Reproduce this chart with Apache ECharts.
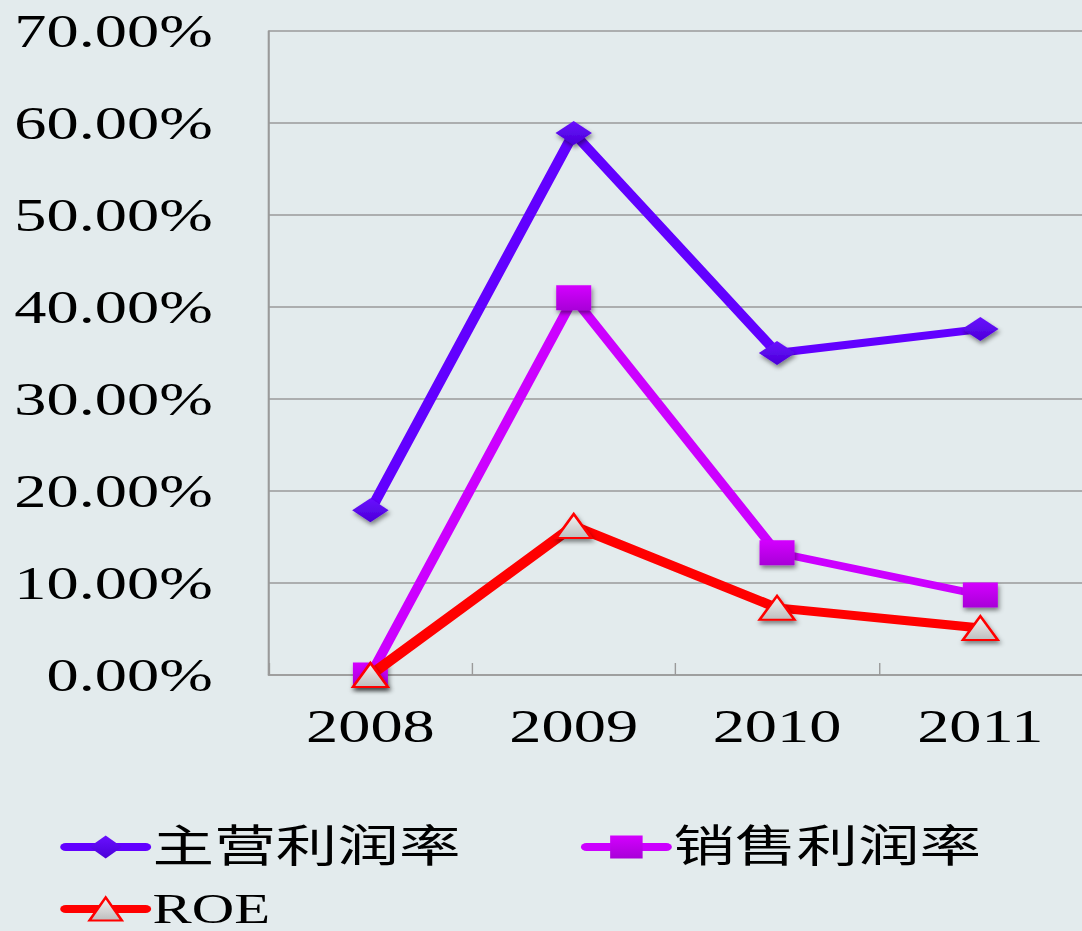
<!DOCTYPE html>
<html>
<head>
<meta charset="utf-8">
<script src="https://cdn.jsdelivr.net/npm/echarts@6/dist/echarts.min.js"></script>
<style>
html, body { margin: 0; padding: 0; background: #e3ebed; overflow: hidden; }
#chart { width: 773px; height: 931px; transform: scaleX(1.39974); transform-origin: 0 0; }
</style>
</head>
<body>
<div id="chart"></div>
<script>
const categories = ['2008', '2009', '2010', '2011'];
const seriesNames = ['主营利润率', '销售利润率', 'ROE'];
const mainProfit = [17.9, 58.9, 35.0, 37.6];
const salesProfit = [0.0, 41.0, 13.3, 8.7];
const roe = [0.0, 16.2, 7.3, 5.1];
const yTicks = { min: 0, max: 70, interval: 10 };

const serif = "'Liberation Serif', 'Times New Roman', 'Noto Sans CJK SC', serif";
const shadow = { shadowBlur: 4, shadowColor: 'rgba(0,0,0,0.45)', shadowOffsetY: 3, shadowOffsetX: 1 };
const legendCommon = {
  padding: 0, itemWidth: 57, itemHeight: 29, itemGap: 86,
  lineStyle: { width: 8, cap: 'round' }
};

const chart = echarts.init(document.getElementById('chart'), null, { renderer: 'svg' });
chart.setOption({
  animation: false,
  backgroundColor: '#e3ebed',
  grid: { left: 192, right: 0, top: 31, bottom: 256 },
  legend: [
    Object.assign({
      data: [seriesNames[0], seriesNames[1]], left: 43, top: 825,
      textStyle: { fontSize: 44, lineHeight: 36, fontFamily: serif, color: '#000' }
    }, legendCommon),
    Object.assign({
      data: [seriesNames[2]], left: 43, top: 888,
      textStyle: { fontSize: 42, lineHeight: 32, fontFamily: serif, color: '#000' }
    }, legendCommon)
  ],
  xAxis: {
    type: 'category',
    data: categories,
    boundaryGap: true,
    axisLine: { lineStyle: { color: '#9a9a9a', width: 1.5 } },
    axisTick: { show: true, inside: true, length: 12, lineStyle: { color: '#9a9a9a', width: 1 } },
    axisLabel: { fontSize: 46, fontFamily: serif, color: '#000', margin: 28 }
  },
  yAxis: {
    type: 'value',
    min: yTicks.min, max: yTicks.max, interval: yTicks.interval,
    axisLine: { show: true, lineStyle: { color: '#9a9a9a', width: 1.5 } },
    axisTick: { show: false },
    splitLine: { lineStyle: { color: '#9a9a9a', width: 1.5 } },
    axisLabel: {
      fontSize: 46, fontFamily: serif, color: '#000', margin: 40,
      formatter: v => v.toFixed(2) + '%'
    }
  },
  series: [
    {
      name: seriesNames[0], type: 'line', data: mainProfit,
      symbol: 'diamond', symbolSize: [26, 24],
      lineStyle: { color: '#6200ff', width: 8 },
      itemStyle: Object.assign({
        color: new echarts.graphic.LinearGradient(0, 0, 0, 1, [
          { offset: 0, color: '#6a10ff' }, { offset: 1, color: '#4a00d8' }
        ])
      }, shadow),
      z: 3
    },
    {
      name: seriesNames[1], type: 'line', data: salesProfit,
      symbol: 'rect', symbolSize: [25, 25],
      lineStyle: { color: '#cc00ff', width: 7.5 },
      itemStyle: Object.assign({
        color: new echarts.graphic.LinearGradient(0, 0, 0, 1, [
          { offset: 0, color: '#d400ff' }, { offset: 1, color: '#a800d8' }
        ])
      }, shadow),
      z: 4
    },
    {
      name: seriesNames[2], type: 'line', data: roe,
      symbol: 'triangle', symbolSize: [25, 24],
      lineStyle: { color: '#ff0000', width: 9 },
      itemStyle: Object.assign({
        color: new echarts.graphic.LinearGradient(0, 0, 0, 1, [
          { offset: 0, color: '#f4f4f4' }, { offset: 1, color: '#bdbdbd' }
        ]),
        borderColor: '#ff0000', borderWidth: 2
      }, shadow),
      z: 5
    }
  ]
});
</script>
</body>
</html>
